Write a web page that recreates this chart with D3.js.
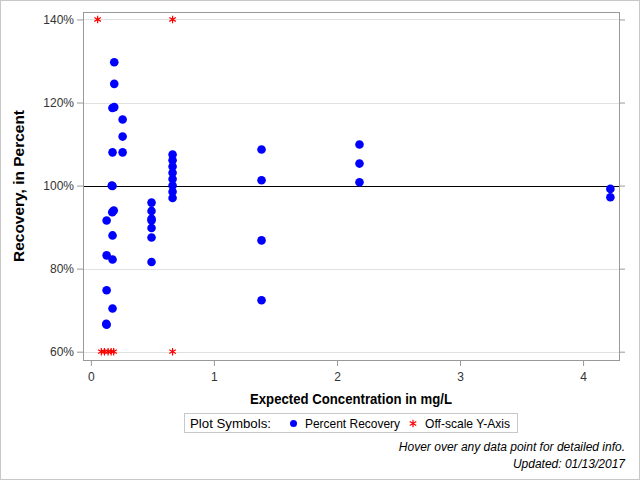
<!DOCTYPE html>
<html>
<head>
<meta charset="utf-8">
<script src="https://cdn.jsdelivr.net/npm/d3@7"></script>
<style>
  body { margin: 0; background: #fff; }
  svg { display: block; font-family: "Liberation Sans", Arial, sans-serif; }
</style>
</head>
<body>
<div id="chart"></div>
<script>
// Percent recovery points (expected concentration, recovery %)
const conc = [
    0.19, 0.19, 0.175, 0.19, 0.258, 0.258, 0.176, 0.258,
    0.17, 0.176, 0.186, 0.174, 0.128, 0.176, 0.128, 0.176, 0.128, 0.176, 0.125, 0.128,
    0.493, 0.493, 0.493, 0.493, 0.493, 0.493, 0.493,
    0.664, 0.664, 0.664, 0.664, 0.664, 0.664, 0.664, 0.664,
    1.387, 1.387, 1.387, 1.387,
    2.183, 2.183, 2.183,
    4.222, 4.222
];
const recovery = [
    129.7, 124.5, 118.7, 118.9, 115.9, 111.8, 108.0, 108.0,
    100.0, 99.9, 94.0, 93.6, 91.6, 88.0, 83.2, 82.2, 74.8, 70.4, 66.7, 66.5,
    95.9, 93.9, 92.0, 91.6, 89.8, 87.5, 81.6,
    107.5, 106.1, 104.6, 103.1, 101.6, 100.0, 98.5, 97.0,
    108.7, 101.3, 86.8, 72.4,
    109.9, 105.3, 100.8,
    99.2, 97.2
];
// Off-scale points, drawn at the axis limit
const offConc = [0.055, 0.664, 0.085, 0.11, 0.14, 0.165, 0.185, 0.664];
const offValue = [140, 140, 60, 60, 60, 60, 60, 60];

const xTicks = [0, 1, 2, 3, 4];
const yTicks = [60, 80, 100, 120, 140];

const width = 640, height = 480;
const plot = { left: 83, right: 619, top: 12, bottom: 360 };

const svg = d3.select("#chart").append("svg")
    .attr("width", width)
    .attr("height", height);

// outer border
svg.append("rect")
    .attr("x", 0.5).attr("y", 0.5)
    .attr("width", width - 1).attr("height", height - 1)
    .attr("fill", "none").attr("stroke", "#c8c8c8");

const x = d3.scaleLinear().domain([-0.064, 4.292]).range([plot.left, plot.right]);
const y = d3.scaleLinear().domain([58, 141.8]).range([plot.bottom, plot.top]);

// grid lines
svg.append("g")
    .selectAll("line")
    .data(yTicks.filter(d => d !== 100))
    .enter().append("line")
    .attr("x1", plot.left).attr("x2", plot.right)
    .attr("y1", d => Math.round(y(d)) + 0.5).attr("y2", d => Math.round(y(d)) + 0.5)
    .attr("stroke", "#e1e1e1");

// reference line at 100%
svg.append("line")
    .attr("x1", plot.left).attr("x2", plot.right)
    .attr("y1", Math.round(y(100)) + 0.5).attr("y2", Math.round(y(100)) + 0.5)
    .attr("stroke", "#000");

// axes
const axisColor = "#999";
const left = svg.append("g")
    .attr("transform", `translate(${plot.left},0)`)
    .call(d3.axisLeft(y).tickValues(yTicks).tickSize(6).tickPadding(3).tickFormat(d => d + "%"));
const right = svg.append("g")
    .attr("transform", `translate(${plot.right},0)`)
    .call(d3.axisRight(y).tickValues(yTicks).tickSize(6).tickFormat(""));
const bottom = svg.append("g")
    .attr("transform", `translate(0,${plot.bottom})`)
    .call(d3.axisBottom(x).tickValues(xTicks).tickSize(6).tickPadding(6).tickFormat(d3.format("d")));
[left, right, bottom].forEach(g => {
    g.select(".domain").remove();
    g.selectAll("line").attr("stroke", axisColor);
    g.selectAll("text").attr("fill", "#333").style("font-size", "12px");
});

// plot frame
svg.append("rect")
    .attr("x", plot.left + 0.5).attr("y", plot.top + 0.5)
    .attr("width", plot.right - plot.left).attr("height", plot.bottom - plot.top)
    .attr("fill", "none").attr("stroke", axisColor);

// blue recovery points
svg.append("g")
    .selectAll("circle")
    .data(conc.map((c, i) => ({ c, r: recovery[i] })))
    .enter().append("circle")
    .attr("cx", d => x(d.c))
    .attr("cy", d => y(d.r))
    .attr("r", 4.3)
    .attr("fill", "#0000ff");

// red off-scale stars
const star = d3.symbol().type(d3.symbolAsterisk).size(40);
svg.append("g")
    .selectAll("path")
    .data(offConc.map((c, i) => ({ c, v: offValue[i] })))
    .enter().append("path")
    .attr("d", star)
    .attr("transform", d => `translate(${x(d.c)},${y(d.v)})`)
    .attr("fill", "none")
    .attr("stroke", "#ff0000")
    .attr("stroke-width", 1.2);

// axis titles
svg.append("text")
    .attr("x", (plot.left + plot.right) / 2)
    .attr("y", 404)
    .attr("text-anchor", "middle")
    .attr("textLength", 202)
    .attr("lengthAdjust", "spacingAndGlyphs")
    .style("font-size", "14px")
    .style("font-weight", "bold")
    .text("Expected Concentration in mg/L");

svg.append("text")
    .attr("transform", `translate(24,${(plot.top + plot.bottom) / 2}) rotate(-90)`)
    .attr("text-anchor", "middle")
    .attr("textLength", 152)
    .attr("lengthAdjust", "spacingAndGlyphs")
    .style("font-size", "14px")
    .style("font-weight", "bold")
    .text("Recovery, in Percent");

// legend
const legend = svg.append("g");
const legendText = (tx, label, len) => legend.append("text")
    .attr("x", tx).attr("y", 428)
    .attr("textLength", len)
    .attr("lengthAdjust", "spacingAndGlyphs")
    .style("font-size", "13px")
    .text(label);
legend.append("rect")
    .attr("x", 184.5).attr("y", 413.5)
    .attr("width", 333).attr("height", 19)
    .attr("fill", "#fff").attr("stroke", "#c8c8c8");
legendText(190, "Plot Symbols:", 81);
legend.append("circle")
    .attr("cx", 293.5).attr("cy", 423.5).attr("r", 3.5)
    .attr("fill", "#0000ff");
legendText(305, "Percent Recovery", 95);
legend.append("path")
    .attr("d", star)
    .attr("transform", "translate(413,423.5)")
    .attr("fill", "none").attr("stroke", "#ff0000").attr("stroke-width", 1.2);
legendText(425, "Off-scale Y-Axis", 85);

// footnotes
svg.append("text")
    .attr("x", 625).attr("y", 451)
    .attr("text-anchor", "end")
    .style("font-size", "12px")
    .style("font-style", "italic")
    .text("Hover over any data point for detailed info.");
svg.append("text")
    .attr("x", 625).attr("y", 468)
    .attr("text-anchor", "end")
    .style("font-size", "12px")
    .style("font-style", "italic")
    .text("Updated: 01/13/2017");
</script>
</body>
</html>
